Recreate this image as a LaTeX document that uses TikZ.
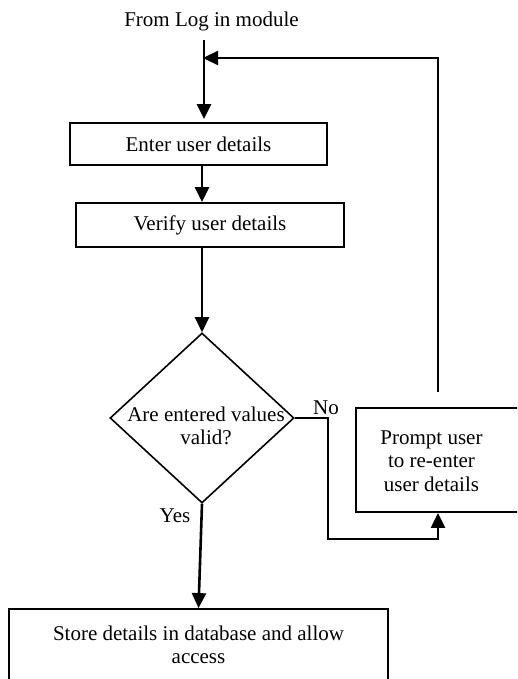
\documentclass[tikz,border=0pt]{standalone}
\usepackage{fontspec}
\setmainfont{Liberation Serif}
\usetikzlibrary{arrows.meta,shapes.geometric}
\tikzset{
  txt/.style={font=\fontsize{21}{23.5}\selectfont, inner sep=0pt},
  box/.style={draw, line width=1.8pt, rectangle, inner sep=0pt, txt, align=center},
  decision/.style={draw, line width=1.6pt, diamond, inner sep=0pt, minimum width=184pt, minimum height=170pt},
  tip/.style={-{Triangle[length=15pt,width=14pt]}},
  arr/.style={line width=2.6pt, tip},
  flow/.style={line width=2.2pt}
}
\begin{document}
\begin{tikzpicture}[x=1pt,y=-1pt]
  \useasboundingbox (0,0) rectangle (517,679);
  \clip (0,0) rectangle (517,679);

  % text above the entry line
  \node[txt, anchor=base] (from) at (211.5,27) {From Log in module};
  \coordinate (src) at (204,40);
  \coordinate (meet) at (203,58);
  \coordinate (ret) at (438,392);
  \coordinate (nb) at (328,539);

  % process boxes
  \node[box, minimum width=257pt, minimum height=42pt] (enter) at (198.5,144) {Enter user details};
  \node[box, minimum width=268pt, minimum height=44pt] (verify) at (210,225) {Verify user details};

  % decision
  \node[decision] (dec) at (202,418) {};
  \node[txt, align=center] (q) at (206,426) {Are entered values\\valid?};

  % prompt box (runs past the right edge)
  \node[box, minimum width=166pt, minimum height=104pt,
        label={[txt, align=center, xshift=-7.5pt, yshift=-1pt]center:Prompt user\\to re-enter\\user details}]
        (prompt) at (439,460) {};

  % final box (runs past the bottom edge)
  \node[box, minimum width=379pt, minimum height=72pt] (store) at (198.5,645)
        {Store details in database and allow\\access};

  % branch labels
  \node[txt, anchor=base] (no) at (326,414) {No};
  \node[txt, anchor=base] (yes) at (175,522) {Yes};

  % connectors
  \draw[arr, shorten >=3pt] (src) -- (enter.north -| src);
  \draw[arr] (enter.south -| dec.north) -- (verify.north -| dec.north);
  \draw[arr] (verify.south -| dec.north) -- (dec.north);
  \draw[arr] (dec.south) -- (store.north);
  \draw[flow, tip] (dec.east) -| (nb) -| (prompt.south -| ret);
  \draw[flow, tip] (ret) |- (meet);
\end{tikzpicture}
\end{document}
